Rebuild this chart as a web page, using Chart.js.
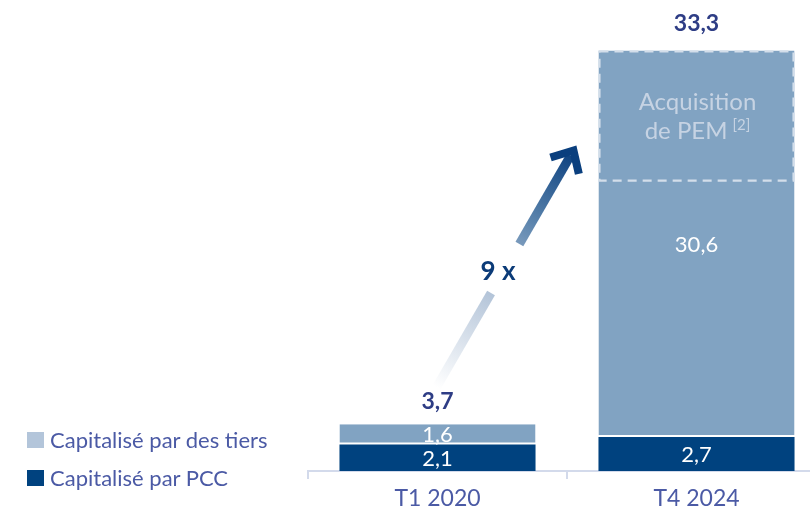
<!DOCTYPE html>
<html>
<head>
<meta charset="utf-8">
<script src="https://cdn.jsdelivr.net/npm/chart.js@4"></script>
<style>
  html, body { margin:0; padding:0; background:#fff; width:810px; height:508px; overflow:hidden; }
  #wrap { position:relative; width:826px; height:508px; }
  .leg { position:absolute; left:27px; font-family:Lato, sans-serif; font-size:22px; color:#4b5aa5; display:flex; align-items:center; white-space:nowrap; }
  .leg span.sq { display:inline-block; width:17px; height:16px; margin-right:6px; }
</style>
</head>
<body>
<div id="wrap">
  <canvas id="c" width="826" height="508"></canvas>
  <div class="leg" style="top:426px;"><span class="sq" style="background:#b3c5da"></span>Capitalisé par des tiers</div>
  <div class="leg" style="top:464px;"><span class="sq" style="background:#00427f"></span>Capitalisé par PCC</div>
</div>
<script>
const categories = ['T1 2020', 'T4 2024'];
const pccValues = [2.1, 2.7];
const tiersValues = [1.6, 30.6];
const totals = [3.7, 33.3];
const pemRange = [null, [23.0, 33.3]];
const pemLabel = ['Acquisition', 'de PEM'];
const pemNote = '[2]';
const growthLabel = '9 x';

const fmt = v => v.toFixed(1).replace('.', ',');

const labelsPlugin = {
  id: 'labels',
  afterDatasetsDraw(chart) {
    const ctx = chart.ctx;
    const y = chart.scales.y;
    const mPcc = chart.getDatasetMeta(0);
    const mTiers = chart.getDatasetMeta(1);
    ctx.save();
    // dashed PEM box
    pemRange.forEach((r, i) => {
      if (!r) return;
      const el = mTiers.data[i];
      const l = el.x - el.width / 2, rgt = el.x + el.width / 2;
      const t = y.getPixelForValue(r[1]), b = y.getPixelForValue(r[0]);
      ctx.strokeStyle = '#d3deea';
      ctx.lineWidth = 2.2;
      ctx.setLineDash([9, 6]);
      ctx.strokeRect(l + 1, t + 1, rgt - l - 2, b - t - 1);
      ctx.setLineDash([]);
      ctx.fillStyle = '#c6d3e3';
      ctx.font = '24px Lato, sans-serif';
      ctx.textAlign = 'center';
      ctx.textBaseline = 'middle';
      const cx = el.x + 1, cy = t + 52;
      ctx.fillText(pemLabel[0], cx, cy);
      const w2 = ctx.measureText(pemLabel[1]).width;
      ctx.font = '15px Lato, sans-serif';
      const w3 = ctx.measureText(pemNote).width;
      const start = cx - (w2 + 5 + w3) / 2;
      ctx.font = '24px Lato, sans-serif';
      ctx.textAlign = 'left';
      ctx.fillText(pemLabel[1], start, cy + 29);
      ctx.font = '15px Lato, sans-serif';
      ctx.fillText(pemNote, start + w2 + 5, cy + 23);
    });
    // inside labels
    ctx.fillStyle = '#ffffff';
    ctx.font = '22px Lato, sans-serif';
    ctx.textAlign = 'center';
    ctx.textBaseline = 'middle';
    [mPcc, mTiers].forEach((m, di) => {
      const vals = di === 0 ? pccValues : tiersValues;
      m.data.forEach((el, i) => {
        ctx.fillText(fmt(vals[i]), el.x, (el.y + el.base) / 2 + 1);
      });
    });
    // totals
    ctx.fillStyle = '#2e3d85';
    ctx.font = 'bold 23px Lato, sans-serif';
    totals.forEach((v, i) => {
      const el = mTiers.data[i];
      ctx.fillText(fmt(v), el.x, y.getPixelForValue(v) - 23 - (i === 1 ? 4 : 0));
    });
    // arrow
    const e0 = mTiers.data[0], e1 = mTiers.data[1];
    const x0 = e0.x - 1, y0 = y.getPixelForValue(totals[0]) - 37;
    const x1 = e1.x - e1.width / 2 - 25, y1 = y.getPixelForValue(totals[1]) + 100;
    const grad = ctx.createLinearGradient(x0, y0, x1, y1);
    grad.addColorStop(0, 'rgba(255,255,255,1)');
    grad.addColorStop(0.45, '#a9bcd3');
    grad.addColorStop(0.7, '#5b84ad');
    grad.addColorStop(1, '#0a3f7e');
    const dx = x1 - x0, dy = y1 - y0, len = Math.hypot(dx, dy);
    const ux = dx / len, uy = dy / len;
    const pt = (yy) => { const t = (yy - y0) / dy; return [x0 + dx * t, yy]; };
    ctx.strokeStyle = grad;
    ctx.lineWidth = 9;
    ctx.lineCap = 'butt';
    const a = pt(293), bpt = pt(244);
    const tipBack = [x1 - ux * 6, y1 - uy * 6];
    ctx.beginPath(); ctx.moveTo(x0, y0); ctx.lineTo(a[0], a[1]); ctx.stroke();
    ctx.beginPath(); ctx.moveTo(bpt[0], bpt[1]); ctx.lineTo(tipBack[0], tipBack[1]); ctx.stroke();
    // head
    const ang = Math.atan2(uy, ux);
    const armLen = 24;
    ctx.lineJoin = 'miter';
    ctx.lineWidth = 8;
    ctx.strokeStyle = '#0a3f7e';
    ctx.beginPath();
    ctx.moveTo(x1 + Math.cos(ang + Math.PI - 0.75) * armLen, y1 + Math.sin(ang + Math.PI - 0.75) * armLen);
    ctx.lineTo(x1, y1);
    ctx.lineTo(x1 + Math.cos(ang + Math.PI + 0.75) * armLen, y1 + Math.sin(ang + Math.PI + 0.75) * armLen);
    ctx.stroke();
    // growth label
    ctx.fillStyle = '#0b3b78';
    ctx.font = 'bold 26px Lato, sans-serif';
    ctx.textAlign = 'center';
    ctx.fillText(growthLabel, 498, 272);
    ctx.restore();
  }
};

new Chart(document.getElementById('c'), {
  type: 'bar',
  data: {
    labels: categories,
    datasets: [
      { label: 'Capitalisé par PCC', data: pccValues, backgroundColor: '#00427f',
        borderWidth: 0, categoryPercentage: 0.757, barPercentage: 1 },
      { label: 'Capitalisé par des tiers', data: tiersValues, backgroundColor: '#81a3c2',
        borderColor: '#ffffff', borderSkipped: false, borderWidth: { top: 0, left: 0, right: 0, bottom: 2 },
        categoryPercentage: 0.757, barPercentage: 1 }
    ]
  },
  options: {
    responsive: false,
    animation: false,
    layout: { padding: { left: 308, right: 0, top: 0, bottom: 0 } },
    plugins: { legend: { display: false }, tooltip: { enabled: false } },
    scales: {
      x: {
        stacked: true,
        grid: { display: true, drawOnChartArea: false, drawTicks: true, tickLength: 8, color: '#d3daeb', lineWidth: 2, offset: true },
        border: { display: true, color: '#d3daeb', width: 2 },
        ticks: { color: '#4b5aa5', font: { family: 'Lato', size: 23 }, padding: 6 },
        afterFit: (s) => { s.height = 37; }
      },
      y: { stacked: true, display: false, min: 0, max: 37.3 }
    }
  },
  plugins: [labelsPlugin]
});
</script>
</body>
</html>
